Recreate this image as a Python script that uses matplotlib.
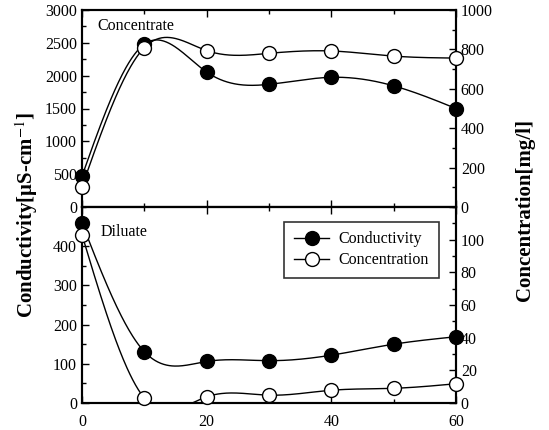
import numpy as np
import matplotlib
matplotlib.use("Agg")
import matplotlib.pyplot as plt
from matplotlib.lines import Line2D
from matplotlib.ticker import MultipleLocator

plt.rcParams['font.family'] = ['Liberation Serif', 'DejaVu Serif']
plt.rcParams['mathtext.fontset'] = 'stix'

time = [0, 10, 20, 30, 40, 50, 60]
conc_cond = [470, 2480, 2055, 1868, 1975, 1845, 1500]
conc_conc = [103, 809, 794, 780, 792, 766, 756]
dil_cond = [459, 131, 106, 108, 122, 150, 169]
dil_conc = [103, 3.0, 3.8, 4.8, 7.8, 9.0, 11.8]


def natural_spline(x, y, xs):
    x = np.asarray(x, float)
    y = np.asarray(y, float)
    n = len(x)
    h = np.diff(x)
    A = np.zeros((n, n))
    b = np.zeros(n)
    A[0, 0] = 1
    A[-1, -1] = 1
    for i in range(1, n - 1):
        A[i, i - 1] = h[i - 1]
        A[i, i] = 2 * (h[i - 1] + h[i])
        A[i, i + 1] = h[i]
        b[i] = 6 * ((y[i + 1] - y[i]) / h[i] - (y[i] - y[i - 1]) / h[i - 1])
    M = np.linalg.solve(A, b)
    idx = np.clip(np.searchsorted(x, xs) - 1, 0, n - 2)
    x0, x1 = x[idx], x[idx + 1]
    hh = x1 - x0
    t0 = x1 - xs
    t1 = xs - x0
    return (M[idx] * t0 ** 3 / (6 * hh) + M[idx + 1] * t1 ** 3 / (6 * hh)
            + (y[idx] / hh - M[idx] * hh / 6) * t0
            + (y[idx + 1] / hh - M[idx + 1] * hh / 6) * t1)


fig = plt.figure(figsize=(5.49, 4.30), dpi=100)
L, R = 82 / 549, 456 / 549
ax1 = fig.add_axes([L, 1 - 207 / 430, R - L, 197 / 430])
ax2 = fig.add_axes([L, 1 - 403 / 430, R - L, 196 / 430])
ax1r = ax1.twinx()
ax2r = ax2.twinx()

xs = np.linspace(0, 60, 400)
ms = 10
lw = 1.0


def draw(ax, y, filled):
    ax.plot(xs, natural_spline(time, y, xs), color='black', lw=lw, zorder=2)
    ax.plot(time, y, 'o', ms=ms, mfc='black' if filled else 'white',
            mec='black', mew=1.0, zorder=3, clip_on=False)


draw(ax1, conc_cond, True)
draw(ax1r, conc_conc, False)
draw(ax2, dil_cond, True)
draw(ax2r, dil_conc, False)

for ax in (ax1, ax2, ax1r, ax2r):
    ax.set_xlim(0, 60)
    for s in ax.spines.values():
        s.set_linewidth(1.5)
    ax.tick_params(which='both', direction='in', labelsize=11.5, width=1.0)
    ax.tick_params(which='major', length=5)
    ax.tick_params(which='minor', length=3)
    ax.xaxis.set_major_locator(MultipleLocator(20))
    ax.xaxis.set_minor_locator(MultipleLocator(10))

ax1.set_ylim(0, 3000)
ax1.yaxis.set_major_locator(MultipleLocator(500))
ax1.yaxis.set_minor_locator(MultipleLocator(250))
ax1r.set_ylim(0, 1000)
ax1r.yaxis.set_major_locator(MultipleLocator(200))
ax1r.yaxis.set_minor_locator(MultipleLocator(100))
ax2.set_ylim(0, 500)
ax2.set_yticks([0, 100, 200, 300, 400])
ax2.yaxis.set_minor_locator(MultipleLocator(50))
ax2r.set_ylim(0, 120)
ax2r.set_yticks([0, 20, 40, 60, 80, 100])
ax2r.yaxis.set_minor_locator(MultipleLocator(10))

ax1.tick_params(axis='x', which='both', top=True, bottom=True, labelbottom=False)
ax2.tick_params(axis='x', which='both', top=True, bottom=True, pad=8)
ax2.set_xticks([0, 20, 40, 60])

ax1.text(0.04, 0.92, 'Concentrate', transform=ax1.transAxes, fontsize=11.5,
         va='center', ha='left')
ax2.text(0.05, 0.87, 'Diluate', transform=ax2.transAxes, fontsize=11.5,
         va='center', ha='left')

fig.text(27 / 549, 1 - 215 / 430, 'Conductivity[μS-cm$^{-1}$]', rotation=90,
         fontsize=15, fontweight='bold', ha='center', va='center')
fig.text(525 / 549, 1 - 210 / 430, 'Concentration[mg/l]', rotation=90,
         fontsize=15, fontweight='bold', ha='center', va='center')

handles = [
    Line2D([], [], color='black', lw=lw, marker='o', ms=ms, mfc='black', mec='black'),
    Line2D([], [], color='black', lw=lw, marker='o', ms=ms, mfc='white', mec='black'),
]
leg = ax2r.legend(handles, ['Conductivity', 'Concentration'], loc='upper right',
                  bbox_to_anchor=(0.975, 0.965), fontsize=11.5, frameon=True,
                  fancybox=False, handlelength=2.2, borderpad=0.6,
                  labelspacing=0.3, handletextpad=0.6)
leg.get_frame().set_edgecolor('black')
leg.get_frame().set_linewidth(1.2)

fig.savefig('out.png', dpi=100)
